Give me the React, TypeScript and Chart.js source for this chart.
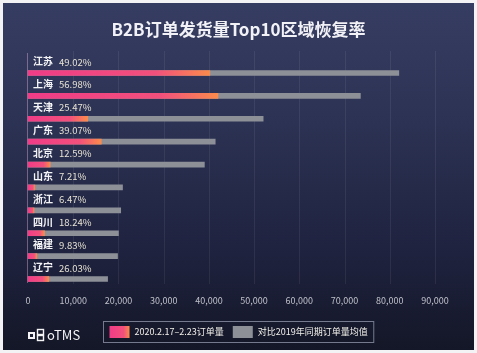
import React, { useEffect, useRef } from 'react';
import { Chart, registerables } from 'chart.js';

Chart.register(...registerables);

const chartTitle = 'B2B订单发货量Top10区域恢复率';
const categories = ['江苏', '上海', '天津', '广东', '北京', '山东', '浙江', '四川', '福建', '辽宁'];
const recoveryRates = ['49.02%', '56.98%', '25.47%', '39.07%', '12.59%', '7.21%', '6.47%', '18.24%', '9.83%', '26.03%'];
const orders2020 = [40200, 42000, 13200, 16200, 4900, 1500, 1330, 3650, 1950, 4600];
const orders2019 = [82000, 73500, 52000, 41400, 39000, 20900, 20500, 20000, 19800, 17600];
const axisMax = 90000;
const axisStep = 10000;
const legendLabels = ['2020.2.17–2.23订单量', '对比2019年同期订单量均值'];
const brandName = 'oTMS';

const FONT = '"Noto Sans CJK SC", "Noto Sans", sans-serif';
const PINK = '#f03c87';
const ORANGE = '#fb8b4c';
const GREY = '#8e9098';

function pinkGradient(c: CanvasRenderingContext2D, x0: number, x1: number) {
  const g = c.createLinearGradient(x0, 0, Math.max(x1, x0 + 1), 0);
  g.addColorStop(0, PINK);
  g.addColorStop(0.7, '#f2507c');
  g.addColorStop(1, ORANGE);
  return g;
}

const overlayPlugin = {
  id: 'overlay',
  beforeDatasetsDraw(chart: any) {
    const { ctx, chartArea, scales } = chart;
    const x = scales.x;
    ctx.save();
    ctx.lineWidth = 1;
    ctx.strokeStyle = 'rgba(255,255,255,0.07)';
    x.ticks.forEach((t: any) => {
      if (t.value === 0) return;
      const px = Math.round(x.getPixelForValue(t.value)) + 0.5;
      ctx.beginPath();
      ctx.moveTo(px, chartArea.top - 22);
      ctx.lineTo(px, chartArea.bottom + 5);
      ctx.stroke();
    });
    const p0 = Math.round(x.getPixelForValue(0)) - 0.5;
    ctx.strokeStyle = 'rgba(215,170,205,0.45)';
    ctx.beginPath();
    ctx.moveTo(p0, chartArea.top - 20);
    ctx.lineTo(p0, chartArea.bottom + 4);
    ctx.stroke();
    ctx.restore();
  },
  afterDatasetsDraw(chart: any) {
    const { ctx, scales } = chart;
    const x = scales.x;
    const y = scales.y;
    ctx.save();
    ctx.textBaseline = 'middle';
    categories.forEach((name, i) => {
      const py = y.getPixelForValue(i) - 11.5;
      const px = x.getPixelForValue(0) + 5;
      ctx.font = `bold 10px ${FONT}`;
      ctx.fillStyle = '#f4f4f6';
      ctx.textAlign = 'left';
      ctx.fillText(name, px, py);
      const w = ctx.measureText(name).width;
      ctx.font = `9.5px ${FONT}`;
      ctx.fillStyle = '#e8e3d4';
      ctx.fillText(recoveryRates[i], px + w + 6, py + 0.5);
    });
    ctx.restore();
  },
  afterDraw(chart: any) {
    const { ctx, width } = chart;
    ctx.save();
    // title
    ctx.font = `bold 17px ${FONT}`;
    ctx.fillStyle = '#f1f1f6';
    ctx.textAlign = 'center';
    ctx.textBaseline = 'middle';
    ctx.fillText(chartTitle, width / 2, 30);

    // legend
    ctx.font = `9px ${FONT}`;
    const sq = 20;
    const sqH = 12;
    const gapIn = 5;
    const gapItem = 9;
    const pad = 6;
    const w1 = ctx.measureText(legendLabels[0]).width;
    const w2 = ctx.measureText(legendLabels[1]).width;
    const total = pad + sq + gapIn + w1 + gapItem + sq + gapIn + w2 + pad;
    const bx = Math.round(width / 2 - total / 2) + 0.5;
    const by = 321.5;
    const bh = 21;
    ctx.strokeStyle = 'rgba(150,155,175,0.75)';
    ctx.lineWidth = 1;
    ctx.strokeRect(bx, by, total, bh);
    const cy = by + bh / 2;
    let cx = bx + pad;
    ctx.fillStyle = pinkGradient(ctx, cx, cx + sq);
    ctx.fillRect(cx, cy - sqH / 2, sq, sqH);
    cx += sq + gapIn;
    ctx.fillStyle = '#f2f0ea';
    ctx.textAlign = 'left';
    ctx.fillText(legendLabels[0], cx, cy);
    cx += w1 + gapItem;
    ctx.fillStyle = GREY;
    ctx.fillRect(cx, cy - sqH / 2, sq, sqH);
    cx += sq + gapIn;
    ctx.fillStyle = '#f2f0ea';
    ctx.fillText(legendLabels[1], cx, cy);

    // brand logo
    ctx.fillStyle = '#f4f4f6';
    ctx.strokeStyle = '#f4f4f6';
    ctx.lineWidth = 1.4;
    ctx.fillRect(28, 332, 7, 7);
    ctx.strokeRect(37.5, 329.5, 6, 5);
    ctx.strokeRect(37.5, 335.5, 6, 5);
    ctx.fillStyle = '#1c2034';
    ctx.fillRect(30, 334, 3, 3);
    ctx.fillStyle = '#f4f4f6';
    ctx.font = `13px ${FONT}`;
    ctx.textBaseline = 'middle';
    ctx.fillText(brandName, 47, 335.5);
    ctx.restore();
  },
};

export default function App() {
  const ref = useRef<HTMLCanvasElement | null>(null);

  useEffect(() => {
    if (!ref.current) return;
    const chart = new Chart(ref.current, {
      type: 'bar',
      data: {
        labels: categories,
        datasets: [
          {
            label: legendLabels[0],
            data: orders2020,
            backgroundColor: (c: any) => {
              const ch = c.chart;
              if (!ch.chartArea || c.raw === undefined) return PINK;
              const xs = ch.scales.x;
              return pinkGradient(ch.ctx, xs.getPixelForValue(0), xs.getPixelForValue(c.raw));
            },
            barThickness: 5,
            grouped: false,
            clip: false as any,
          },
          {
            label: legendLabels[1],
            data: orders2019,
            backgroundColor: GREY,
            barThickness: 5,
            grouped: false,
            clip: false as any,
          },
        ],
      },
      options: {
        indexAxis: 'y',
        animation: false,
        responsive: false,
        maintainAspectRatio: false,
        layout: { padding: { top: 73, left: 28, right: 42, bottom: 39.2 } },
        plugins: {
          legend: { display: false },
          tooltip: { enabled: false },
          title: { display: false },
        },
        scales: {
          x: {
            type: 'linear',
            min: 0,
            max: axisMax,
            grid: { display: false },
            border: { display: false },
            ticks: {
              stepSize: axisStep,
              autoSkip: false,
              maxRotation: 0,
              padding: 8,
              color: '#bfc0c9',
              font: { size: 9, family: FONT },
              callback: (v: any) => Number(v).toLocaleString('en-US'),
            },
          },
          y: {
            type: 'category',
            offset: false,
            display: false,
          },
        },
      },
      plugins: [overlayPlugin],
    });
    return () => chart.destroy();
  }, []);

  return (
    <div
      style={{
        position: 'fixed',
        left: 0,
        top: 0,
        width: 477,
        height: 353,
        background: '#f3f3f5',
      }}
    >
      <div
        style={{
          position: 'absolute',
          left: 3,
          top: 3,
          width: 471,
          height: 347,
          background: 'linear-gradient(180deg, #363d62 0%, #2c3253 35%, #1f2340 70%, #141727 100%)',
        }}
      />
      <canvas ref={ref} width={477} height={353} style={{ position: 'absolute', left: 0, top: 0, width: 477, height: 353 }} />
    </div>
  );
}
